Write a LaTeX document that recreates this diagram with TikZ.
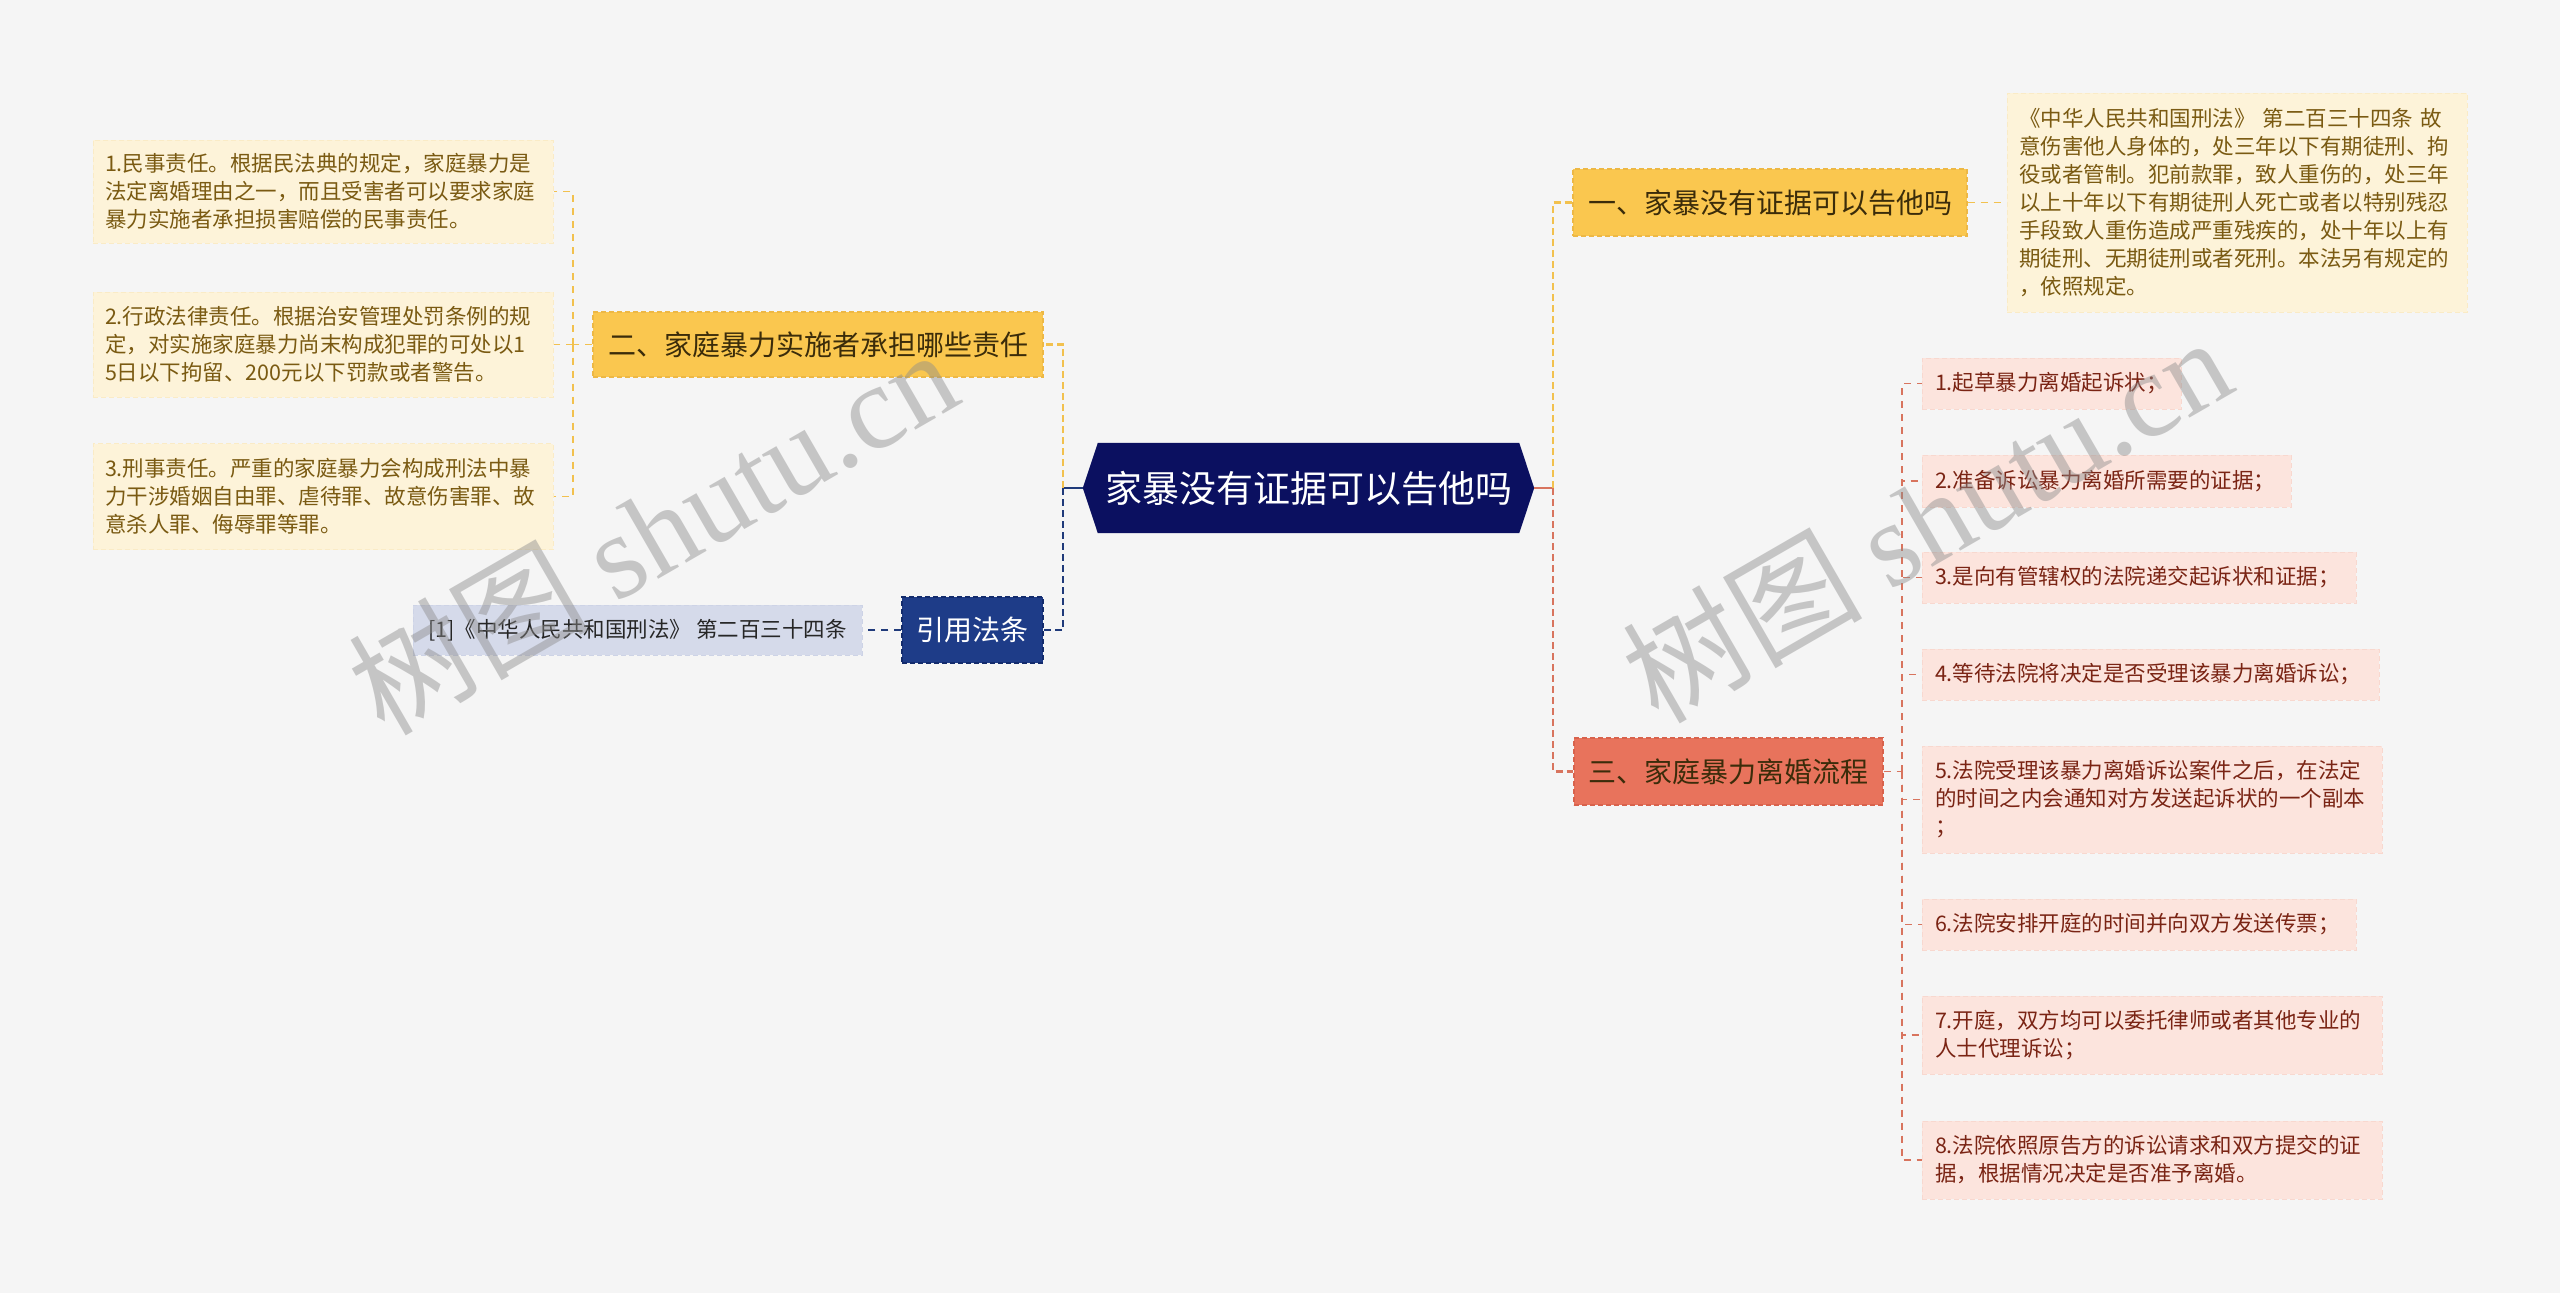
\documentclass[tikz,border=0pt]{standalone}
\usepackage{fontspec}
\setmainfont{Noto Sans CJK SC}
\newfontfamily\wmserif{Liberation Serif}
\usetikzlibrary{backgrounds}
\definecolor{bgc}{HTML}{F5F5F5}
\definecolor{rootc}{HTML}{0B1060}
\definecolor{yelc}{HTML}{FAC74F}
\definecolor{yelD}{HTML}{EDB845}
\definecolor{yelL}{HTML}{F2C14E}
\definecolor{bluec}{HTML}{1E3C88}
\definecolor{blueD}{HTML}{132B6C}
\definecolor{blueL}{HTML}{1F3A7A}
\definecolor{refc}{HTML}{D5DAEA}
\definecolor{refD}{HTML}{CDD3E6}
\definecolor{creamc}{HTML}{FDF3D9}
\definecolor{creamD}{HTML}{FAEBC6}
\definecolor{creamT}{HTML}{7A5A12}
\definecolor{redc}{HTML}{E8735C}
\definecolor{redD}{HTML}{D8624C}
\definecolor{redL}{HTML}{D8745E}
\definecolor{pinkc}{HTML}{FCE4DD}
\definecolor{pinkD}{HTML}{F8D8CF}
\definecolor{pinkT}{HTML}{7A2414}
\definecolor{darkT}{HTML}{3B2C0A}
\begin{document}
\begin{tikzpicture}[x=1pt,y=-1pt,
  rootnode/.style={minimum width=451pt,minimum height=90pt,inner sep=0pt,text=white,font=\fontsize{37}{44}\selectfont},
  branch/.style={inner sep=0pt,line width=1.2pt,dash pattern=on 5pt off 3pt,font=\fontsize{28}{34}\selectfont},
  ybranch/.style={branch,fill=yelc,draw=yelD,text=darkT},
  rbranch/.style={branch,fill=redc,draw=redD,text=darkT},
  bbranch/.style={branch,fill=bluec,draw=blueD,text=white},
  refnode/.style={inner sep=0pt,fill=refc,draw=refD,line width=1pt,dash pattern=on 5pt off 3pt,text=black!85,font=\fontsize{21.5}{28}\selectfont},
  leafY/.style={fill=creamc,draw=creamD,line width=1pt,dash pattern=on 5pt off 3pt,text=creamT,align=left,text width=#1,inner xsep=12pt,inner ysep=0pt,font=\fontsize{21.5}{28}\selectfont},
  leafR/.style={fill=pinkc,draw=pinkD,line width=1pt,dash pattern=on 5pt off 3pt,text=pinkT,align=left,text width=#1,inner xsep=13pt,inner ysep=0pt,font=\fontsize{21.5}{28}\selectfont},
  conn/.style={line width=2.2pt,dash pattern=on 7pt off 4pt},
  leafconn/.style={line width=1.4pt,dash pattern=on 7pt off 6pt},
  wm/.style={text=black!45,opacity=0.45,rotate=30,font=\fontsize{120}{130}\selectfont}
]
\useasboundingbox (0,0) rectangle (2560,1293);

% root
\node[rootnode] (root) at (1308.5,488) {家暴没有证据可以告他吗};
\begin{scope}[on background layer]
\fill[bgc] (0,0) rectangle (2560,1293);
\fill[rootc] (root.west) -- ([xshift=15pt]root.north west) -- ([xshift=-15pt]root.north east)
  -- (root.east) -- ([xshift=-15pt]root.south east) -- ([xshift=15pt]root.south west) -- cycle;
\end{scope}

% left side
\node[ybranch,minimum width=450pt,minimum height=65pt] (er) at (818,344.5) {二、家庭暴力实施者承担哪些责任};
\node[bbranch,minimum width=141pt,minimum height=66pt] (yf) at (972.5,630) {引用法条};
\node[refnode,minimum width=449pt,minimum height=50pt] (ref) at (637.5,630) {[1]《中华人民共和国刑法》 第二百三十四条};

\node[leafY=436pt,minimum height=103pt] (L1) at (323,191.5) {1.民事责任。根据民法典的规定，家庭暴力是\\法定离婚理由之一，而且受害者可以要求家庭\\暴力实施者承担损害赔偿的民事责任。};
\node[leafY=436pt,minimum height=105pt] (L2) at (323,344.5) {2.行政法律责任。根据治安管理处罚条例的规\\定，对实施家庭暴力尚末构成犯罪的可处以1\\5日以下拘留、200元以下罚款或者警告。};
\node[leafY=436pt,minimum height=106pt] (L3) at (323,496.5) {3.刑事责任。严重的家庭暴力会构成刑法中暴\\力干涉婚姻自由罪、虐待罪、故意伤害罪、故\\意杀人罪、侮辱罪等罪。};

% right side
\node[ybranch,minimum width=394pt,minimum height=67pt] (yi) at (1770,202.5) {一、家暴没有证据可以告他吗};
\node[leafY=436pt,minimum height=219pt] (yiT) at (2237,202.5) {《中华人民共和国刑法》 第二百三十四条 故\\意伤害他人身体的，处三年以下有期徒刑、拘\\役或者管制。犯前款罪，致人重伤的，处三年\\以上十年以下有期徒刑人死亡或者以特别残忍\\手段致人重伤造成严重残疾的，处十年以上有\\期徒刑、无期徒刑或者死刑。本法另有规定的\\，依照规定。};
\node[rbranch,minimum width=309pt,minimum height=67pt] (san) at (1728.5,771.5) {三、家庭暴力离婚流程};

\node[leafR=233pt,minimum height=51pt] (R1) at (2051.5,383.5) {1.起草暴力离婚起诉状；};
\node[leafR=343pt,minimum height=52pt] (R2) at (2106.5,481) {2.准备诉讼暴力离婚所需要的证据；};
\node[leafR=408pt,minimum height=51pt] (R3) at (2139,577.5) {3.是向有管辖权的法院递交起诉状和证据；};
\node[leafR=431pt,minimum height=51pt] (R4) at (2150.5,674.5) {4.等待法院将决定是否受理该暴力离婚诉讼；};
\node[leafR=434pt,minimum height=107pt] (R5) at (2152,799.5) {5.法院受理该暴力离婚诉讼案件之后，在法定\\的时间之内会通知对方发送起诉状的一个副本\\；};
\node[leafR=408pt,minimum height=51pt] (R6) at (2139,924.5) {6.法院安排开庭的时间并向双方发送传票；};
\node[leafR=434pt,minimum height=78pt] (R7) at (2152,1035) {7.开庭，双方均可以委托律师或者其他专业的\\人士代理诉讼；};
\node[leafR=434pt,minimum height=78pt] (R8) at (2152,1160) {8.法院依照原告方的诉讼请求和双方提交的证\\据，根据情况决定是否准予离婚。};

% junctions
\coordinate (jL) at (1063,488);
\coordinate (jLL) at (573,344.5);
\coordinate (jR) at (1553,488);
\coordinate (jRR) at (1902,771.5);

% connectors left
\draw[blueL,line width=2.2pt] (root.west) -- (jL);
\draw[yelL,conn] (jL) |- (er.east);
\draw[blueL,conn] (jL) |- (yf.east);
\draw[blueL,leafconn] (yf.west) -- (ref.east);
\draw[yelL,leafconn] (er.west) -- (jLL);
\draw[yelL,leafconn] (jLL) |- (L1.east);
\draw[yelL,leafconn] (jLL) -- (L2.east);
\draw[yelL,leafconn] (jLL) |- (L3.east);

% connectors right
\draw[redL,line width=2.2pt] (root.east) -- (jR);
\draw[yelL,conn] (jR) |- (yi.west);
\draw[redL,conn] (jR) |- (san.west);
\draw[yelL,leafconn] (yi.east) -- (yiT.west);
\draw[redL,leafconn] (san.east) -- (jRR);
\foreach \r in {R1,R2,R3,R4,R5,R6,R7,R8}
  \draw[redL,leafconn] (jRR) |- (\r.west);

% watermark
\node[wm] (wm1) at (652,530) {树图 {\wmserif shutu.cn}};
\node[wm] (wm2) at (1926,518) {树图 {\wmserif shutu.cn}};
\end{tikzpicture}
\end{document}
